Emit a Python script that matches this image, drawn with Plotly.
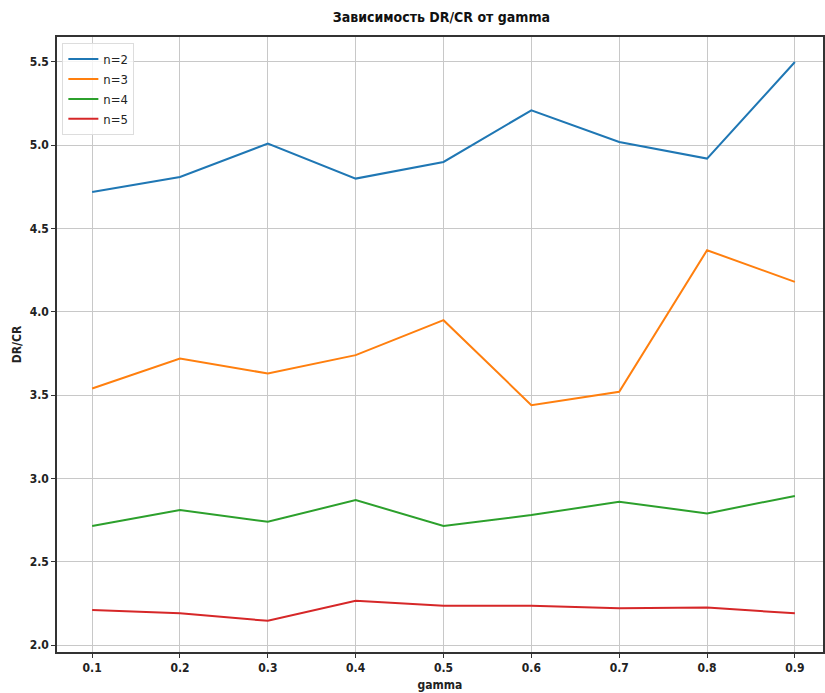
import plotly.graph_objects as go

gamma = [0.1, 0.2, 0.3, 0.4, 0.5, 0.6, 0.7, 0.8, 0.9]
tick_labels = ["0.1", "0.2", "0.3", "0.4", "0.5", "0.6", "0.7", "0.8", "0.9"]
n2 = [4.72, 4.81, 5.01, 4.80, 4.90, 5.21, 5.02, 4.92, 5.50]
n3 = [3.54, 3.72, 3.63, 3.74, 3.95, 3.44, 3.52, 4.37, 4.18]
n4 = [2.715, 2.81, 2.74, 2.87, 2.715, 2.78, 2.86, 2.79, 2.895]
n5 = [2.21, 2.19, 2.145, 2.265, 2.235, 2.235, 2.22, 2.225, 2.19]
y_ticks = [2.0, 2.5, 3.0, 3.5, 4.0, 4.5, 5.0, 5.5]
y_tick_labels = ["2.0", "2.5", "3.0", "3.5", "4.0", "4.5", "5.0", "5.5"]
series = [("n=2", n2, "#1f77b4"), ("n=3", n3, "#ff7f0e"),
          ("n=4", n4, "#2ca02c"), ("n=5", n5, "#d62728")]

font = "DejaVu Sans Condensed, DejaVu Sans, sans-serif"
fig = go.Figure()
for name, vals, col in series:
    fig.add_trace(go.Scatter(x=gamma, y=vals, mode="lines", name=name,
                             line=dict(color=col, width=2)))

fig.update_layout(
    width=825, height=693,
    margin=dict(l=57, r=0, t=37, b=41),
    plot_bgcolor="white", paper_bgcolor="white",
    font=dict(family=font, size=12, color="#222"),
    title=dict(text="<b>Зависимость DR/CR от gamma</b>", x=0.535, xanchor="center",
               y=0.975, yanchor="middle", font=dict(size=14, color="#111")),
    legend=dict(x=0.007, y=0.99, xanchor="left", yanchor="top",
                bordercolor="#ddd", borderwidth=1, bgcolor="rgba(255,255,255,0.8)",
                font=dict(size=13), tracegroupgap=0),
    xaxis=dict(range=[0.06, 0.932], tickvals=gamma,
               ticktext=["<b>%s</b>" % t for t in tick_labels],
               showgrid=True, gridcolor="#c8c8c8", gridwidth=1,
               showline=True, linecolor="#333", linewidth=1.5, mirror=True,
               ticks="outside", ticklen=4, tickcolor="#333", zeroline=False,
               title=dict(text="<b>gamma</b>", standoff=6, font=dict(size=12)),
               tickfont=dict(size=12)),
    yaxis=dict(range=[1.958, 5.65], tickvals=y_ticks,
               ticktext=["<b>%s</b>" % t for t in y_tick_labels],
               showgrid=True, gridcolor="#c8c8c8", gridwidth=1,
               showline=True, linecolor="#333", linewidth=1.5, mirror=True,
               ticks="outside", ticklen=4, tickcolor="#333", zeroline=False,
               title=dict(text="<b>DR/CR</b>", standoff=6, font=dict(size=12)),
               tickfont=dict(size=12)),
)
fig.write_html("out.html", config={"displayModeBar": False})

with open("out.html", encoding="utf-8") as f:
    html = f.read()
html = html.replace("<head>", "<head><style>html,body{margin:0;padding:0;overflow:hidden;}</style>", 1)
with open("out.html", "w", encoding="utf-8") as f:
    f.write(html)
